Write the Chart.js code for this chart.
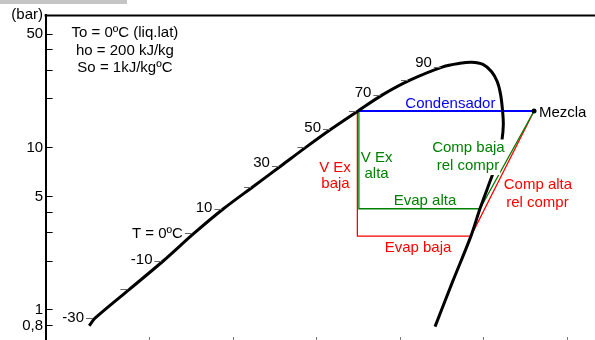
<!DOCTYPE html>
<html>
<head>
<meta charset="utf-8">
<script src="https://cdn.jsdelivr.net/npm/chart.js@4.4.1/dist/chart.umd.min.js"></script>
<style>
  html, body { margin: 0; padding: 0; background: #fff; overflow: hidden; width: 595px; height: 340px; }
  canvas { display: block; }
</style>
</head>
<body>
<canvas id="ph" width="620" height="360"></canvas>
<script>
// Log p-h diagram of R-134a: saturation dome plus two cycles sharing one condenser.

// Saturated liquid line: temperature (ºC), pressure (bar), enthalpy (kJ/kg)
const satTemps  = [-30, -20, -10, 0, 10, 20, 30, 40, 50, 60, 70, 80, 90];
const satPress  = [0.89, 1.34, 2.01, 2.96, 4.2, 5.74, 7.7, 10.1, 13.1, 16.8, 21.1, 26.0, 31.4];
const satLiqH   = [142.1, 162.7, 183.1, 201.3, 219.0, 236.7, 253.4, 268.7, 284.0, 299.6, 314.2, 330.7, 350.4];
const tempLabels = ['-30', '', '-10', 'T = 0ºC', '10', '', '30', '', '50', '', '70', '', '90'];

// Lower end of the liquid line
const liqStartH = 138.6, liqStartP = 0.8;
// Top of the dome and saturated vapour line, going down
const vapH = [360.6, 367.6, 374.4, 379.6, 383.0, 385.0, 386.2, 386.6, 385.8, 383.7, 379.6, 372.6, 367.2, 356.4, 345.7];
const vapP = [33.0, 33.5, 32.5, 29.3, 25.4, 21.1, 16.6, 13.8, 11.1, 8.6, 6.58, 4.2, 2.85, 1.51, 0.79];

// Cycle states
const condP = 16.8;          // condenser pressure (bar)
const evapHighP = 4.2;       // high evaporating pressure
const evapLowP = 2.85;       // low evaporating pressure
const condOutH = 299.6;      // saturated liquid leaving condenser
const vExHighH = 300.1;      // expansion line, high evaporator
const vExLowH = 299.2;       // expansion line, low evaporator
const evapHighOutH = 372.6;  // saturated vapour, high evaporator
const evapLowOutH = 367.2;   // saturated vapour, low evaporator
const mixH = 405.0;          // discharge mixture

// Axis ticks
const pressureTicks  = [0.8, 1, 2, 3, 4, 5, 10, 20, 30, 40, 50];
const pressureLabels = ['0,8', '1', '', '', '', '5', '10', '', '', '', '50'];
const enthalpyTicks  = [175, 225, 275, 325, 375, 425];

const domePoints = [{x: liqStartH, y: liqStartP}]
  .concat(satLiqH.map((h, i) => ({x: h, y: satPress[i]})))
  .concat(vapH.map((h, i) => ({x: h, y: vapP[i]})));

const GREEN = '#008000', RED = '#ff0000', BLUE = '#0000ff';
const FONT = '15px "Liberation Sans", Arial, sans-serif';

// Text annotations anchored in (h, p) coordinates
const notes = [
  {text: 'To = 0ºC (liq.lat)', h: 160.0, p: 47.9, color: '#000', align: 'center'},
  {text: 'ho = 200 kJ/kg',     h: 160.0, p: 37.4, color: '#000', align: 'center'},
  {text: 'So = 1kJ/kgºC',      h: 160.0, p: 29.2, color: '#000', align: 'center'},
  {text: 'Condensador', h: 354.9, p: 17.5, color: BLUE, align: 'center'},
  {text: 'Mezcla',      h: 407.9, p: 15.4, color: '#000', align: 'left'},
  {text: 'Comp baja',   h: 365.7, p: 9.33, color: GREEN, align: 'center', bg: true},
  {text: 'rel compr',   h: 365.4, p: 7.27, color: GREEN, align: 'center', bg: true},
  {text: 'Comp alta',   h: 407.3, p: 5.55, color: RED, align: 'center'},
  {text: 'rel compr',   h: 407.0, p: 4.28, color: RED, align: 'center'},
  {text: 'Evap alta',   h: 339.7, p: 4.45, color: GREEN, align: 'center'},
  {text: 'Evap baja',   h: 335.5, p: 2.29, color: RED, align: 'center'},
  {text: 'V Ex',        h: 285.8, p: 7.03, color: RED, align: 'center'},
  {text: 'baja',        h: 286.1, p: 5.63, color: RED, align: 'center'},
  {text: 'V Ex',        h: 310.7, p: 8.10, color: GREEN, align: 'center'},
  {text: 'alta',        h: 310.7, p: 6.49, color: GREEN, align: 'center'}
];
// vertical nudge (px) of each temperature label relative to its dash
const tempLabelDy = [3, 0, 2, 4, 2, 0, 0, 0, 2, 0, 1, 0, -1];

const decor = {
  id: 'decor',
  afterDraw(chart) {
    const {ctx, chartArea: a, scales: {x, y}} = chart;
    ctx.save();
    // grey strip at the very top
    ctx.fillStyle = '#c4c4c4';
    ctx.fillRect(0, 0, 127, 4);
    // top frame line
    ctx.strokeStyle = '#000';
    ctx.lineWidth = 2;
    ctx.beginPath();
    ctx.moveTo(a.left - 1, 15.5);
    ctx.lineTo(a.right, 15.5);
    ctx.stroke();
    ctx.font = FONT;
    ctx.textBaseline = 'alphabetic';
    // unit of the pressure axis
    ctx.fillStyle = '#000';
    ctx.textAlign = 'right';
    ctx.fillText('(bar)', 43, 18.5);
    // temperature dashes and labels along the liquid line
    ctx.lineWidth = 1;
    ctx.strokeStyle = '#666';
    satTemps.forEach((t, i) => {
      const px = x.getPixelForValue(satLiqH[i]);
      const py = Math.round(y.getPixelForValue(satPress[i])) + 0.5;
      ctx.beginPath();
      ctx.moveTo(px - 9, py);
      ctx.lineTo(px - 2, py);
      ctx.stroke();
      if (tempLabels[i]) {
        ctx.fillStyle = '#000';
        ctx.textAlign = 'right';
        ctx.fillText(tempLabels[i], px - 11, py + tempLabelDy[i]);
      }
    });
    // cycle annotations
    notes.forEach(n => {
      const px = x.getPixelForValue(n.h);
      const py = y.getPixelForValue(n.p);
      ctx.textAlign = n.align;
      if (n.bg) {
        const w = ctx.measureText(n.text).width;
        const left = n.align === 'center' ? px - w / 2 : px;
        ctx.fillStyle = '#fff';
        ctx.fillRect(left - 1, py - 13, w + 2, 18);
      }
      ctx.fillStyle = n.color;
      ctx.fillText(n.text, px, py);
    });
    ctx.restore();
  }
};

new Chart(document.getElementById('ph'), {
  type: 'scatter',
  data: {
    datasets: [
      { label: 'Mezcla', data: [{x: mixH, y: condP}], showLine: false,
        pointRadius: 2.5, pointBackgroundColor: '#000', pointBorderWidth: 0 },
      { label: 'Saturación', data: domePoints, showLine: true, borderColor: '#000',
        borderWidth: 3, pointRadius: 0, tension: 0.3, borderJoinStyle: 'round' },
      { label: 'Condensador', data: [{x: condOutH, y: condP}, {x: mixH, y: condP}],
        showLine: true, borderColor: BLUE, borderWidth: 2, pointRadius: 0 },
      { label: 'Evap alta', data: [{x: vExHighH, y: condP}, {x: vExHighH, y: evapHighP},
        {x: evapHighOutH, y: evapHighP}, {x: mixH, y: condP}],
        showLine: true, borderColor: GREEN, borderWidth: 1.3, pointRadius: 0 },
      { label: 'Evap baja', data: [{x: vExLowH, y: condP}, {x: vExLowH, y: evapLowP},
        {x: evapLowOutH, y: evapLowP}, {x: mixH, y: condP}],
        showLine: true, borderColor: RED, borderWidth: 1.3, pointRadius: 0 }
    ]
  },
  options: {
    responsive: false,
    animation: false,
    events: [],
    layout: { padding: { left: 0, top: 15.3, right: 10.8, bottom: 16 } },
    plugins: { legend: { display: false }, tooltip: { enabled: false } },
    scales: {
      x: {
        type: 'linear', min: 112.5, max: 450, bounds: 'data',
        afterBuildTicks: s => { s.ticks = enthalpyTicks.map(v => ({value: v})); },
        afterFit: s => { s.height = 0; s.paddingLeft = 0; s.paddingRight = 0; },
        border: { display: false },
        grid: { display: true, drawOnChartArea: false, drawTicks: true, tickLength: -7, color: '#777', lineWidth: 1 },
        ticks: { display: false }
      },
      y: {
        type: 'logarithmic', min: 0.6175, max: 65.2, bounds: 'data',
        afterBuildTicks: s => { s.ticks = pressureTicks.map(v => ({value: v})); },
        afterFit: s => { s.width = 45.6; s.paddingTop = 0; s.paddingBottom = 0; },
        border: { display: true, color: '#000', width: 2 },
        grid: { display: true, drawOnChartArea: false, drawTicks: true, tickLength: -7, color: '#000', lineWidth: 1 },
        ticks: {
          autoSkip: false, padding: 9.5, color: '#000',
          font: { family: '"Liberation Sans", Arial, sans-serif', size: 15 },
          callback: (v, i) => pressureLabels[i]
        }
      }
    }
  },
  plugins: [decor]
});
</script>
</body>
</html>
